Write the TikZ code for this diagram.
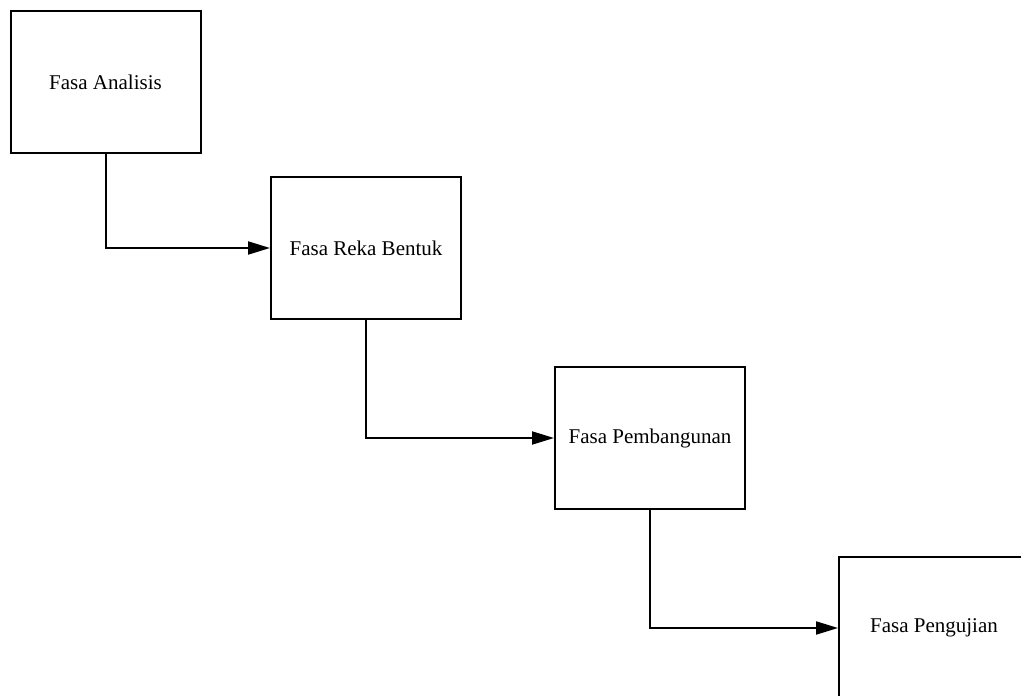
\documentclass[tikz,border=0pt]{standalone}
\usepackage{fontspec}
\setmainfont{Liberation Serif}
\usetikzlibrary{arrows.meta}
\begin{document}
\begin{tikzpicture}[x=1pt,y=1pt,
  phase/.style={draw=black, line width=2pt, minimum width=190pt, minimum height=142pt, inner sep=0pt, font=\fontsize{21}{24}\selectfont, fill=white},
  conn/.style={line width=2pt, -{Triangle[length=22pt,width=13pt]}}]
\useasboundingbox (0,0) rectangle (1021,-696);
\node[phase] (a) at (105.5,-82) {Fasa Analisis};
\node[phase] (b) at (366,-248) {Fasa Reka Bentuk};
\node[phase] (c) at (650,-438) {Fasa Pembangunan};
\node[phase] (d) at (934,-628) {Fasa Pengujian};
\draw[conn] (a.south) |- (b.west);
\draw[conn] (b.south) |- (c.west);
\draw[conn] (c.south) |- (d.west);
\end{tikzpicture}
\end{document}
